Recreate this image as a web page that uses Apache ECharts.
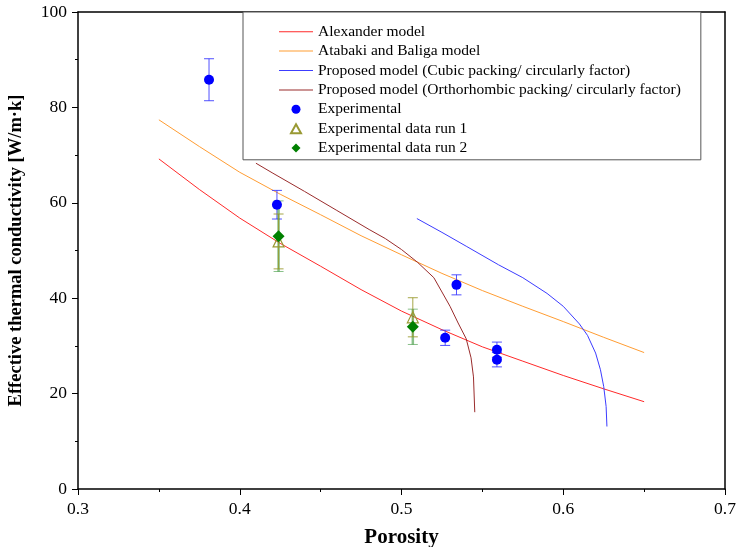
<!DOCTYPE html>
<html>
<head>
<meta charset="utf-8">
<script src="https://cdn.jsdelivr.net/npm/echarts@6/dist/echarts.min.js"></script>
<style>
  html, body { margin: 0; padding: 0; background: #fff; }
  #demo { width: 736px; height: 547px; }
</style>
</head>
<body>
<div id="demo"></div>
<script>
// 模型曲线 (porosity, k)
var alexanderX = [0.35, 0.375, 0.4, 0.425, 0.45, 0.475, 0.5, 0.525, 0.55, 0.575, 0.6, 0.625, 0.65];
var alexanderY = [69.2, 62.8, 56.8, 51.5, 46.7, 41.8, 37.3, 33.4, 29.8, 26.8, 23.8, 21.0, 18.3];
var atabakiX = [0.35, 0.375, 0.4, 0.425, 0.45, 0.475, 0.5, 0.525, 0.55, 0.575, 0.6, 0.625, 0.65];
var atabakiY = [77.4, 71.8, 66.4, 61.8, 57.5, 53.1, 49.1, 45.2, 41.6, 38.3, 35.1, 31.8, 28.6];
var cubicX = [0.5095, 0.525, 0.54, 0.56, 0.575, 0.59, 0.6, 0.61, 0.615, 0.62, 0.623, 0.625, 0.6265, 0.627];
var cubicY = [56.7, 53.8, 50.9, 47.0, 44.3, 41.0, 38.3, 34.6, 32.2, 28.5, 25.0, 21.5, 17.3, 13.1];
var orthoX = [0.41, 0.42, 0.44, 0.46, 0.48, 0.49, 0.5, 0.51, 0.52, 0.525, 0.53, 0.535, 0.54, 0.543, 0.5445, 0.5453];
var orthoY = [68.3, 66.3, 62.4, 58.4, 54.4, 52.5, 50.2, 47.5, 44.3, 41.3, 38.3, 34.8, 31.5, 27.5, 23.5, 16.1];

// 实验数据 + 误差
var expX = [0.381, 0.423, 0.534, 0.527, 0.559, 0.559];
var expY = [85.8, 59.6, 42.8, 31.7, 29.2, 27.1];
var expErr = [4.4, 3.0, 2.1, 1.6, 1.6, 1.5];
var run1X = [0.424, 0.507];
var run1Y = [51.9, 36.0];
var run1Err = [5.75, 4.1];
var run2X = [0.424, 0.507];
var run2Y = [53.0, 34.0];
var run2Err = [7.4, 3.7];

var xTicks = [0.3, 0.4, 0.5, 0.6, 0.7];
var yTicks = [0, 20, 40, 60, 80, 100];

var names = [
    'Alexander model',
    'Atabaki and Baliga model',
    'Proposed model (Cubic packing/ circularly factor)',
    'Proposed model (Orthorhombic packing/ circularly factor)',
    'Experimental',
    'Experimental data run 1',
    'Experimental data run 2'
];

function pairs(xs, ys, es) {
    var out = [];
    for (var i = 0; i < xs.length; i++) {
        if (es) out.push([xs[i], ys[i], es[i]]);
        else out.push([xs[i], ys[i]]);
    }
    return out;
}

// 误差棒
function errorBar(color, width) {
    return function (params, api) {
        var x = api.value(0), y = api.value(1), e = api.value(2);
        var top = api.coord([x, y + e]);
        var bot = api.coord([x, y - e]);
        var w = 5;
        var st = { stroke: color, lineWidth: width };
        var cap = { stroke: color, lineWidth: 1 };
        return {
            type: 'group',
            children: [
                { type: 'line', shape: { x1: top[0], y1: top[1], x2: bot[0], y2: bot[1] }, style: st },
                { type: 'line', shape: { x1: top[0] - w, y1: top[1], x2: top[0] + w, y2: top[1] }, style: cap },
                { type: 'line', shape: { x1: bot[0] - w, y1: bot[1], x2: bot[0] + w, y2: bot[1] }, style: cap }
            ]
        };
    };
}

var font = 'Liberation Serif';
var chartDom = document.getElementById('demo');
var myChart = echarts.init(chartDom, null, { renderer: 'canvas' });

function lineSeries(name, xs, ys, color) {
    return {
        name: name,
        type: 'line',
        data: pairs(xs, ys),
        symbol: 'none',
        smooth: false,
        lineStyle: { color: color, width: 1 },
        itemStyle: { color: color },
        z: 2
    };
}

// 图例图标: 线段 / 三角 / 菱形
var lineIcon = 'path://M0,0 L34,0 L34,1 L0,1 Z';
var triIcon = 'path://M5,0 L10,9 L0,9 Z';
var diaIcon = 'path://M5,0 L10,5 L5,10 L0,5 Z';
var legendData = [
    { name: names[0], icon: lineIcon },
    { name: names[1], icon: lineIcon },
    { name: names[2], icon: lineIcon },
    { name: names[3], icon: lineIcon },
    { name: names[4], icon: 'circle' },
    { name: names[5], icon: triIcon },
    { name: names[6], icon: diaIcon }
];

var option = {
    animation: false,
    backgroundColor: '#fff',
    textStyle: { fontFamily: font },
    grid: { left: 78, right: 11, top: 12, bottom: 58, containLabel: false, outerBoundsMode: 'none' },
    legend: {
        data: legendData,
        orient: 'vertical',
        left: 243,
        top: 12,
        padding: [10, 20, 2, 36],
        itemWidth: 34,
        itemHeight: 9,
        itemGap: 0,
        backgroundColor: '#fff',
        borderColor: '#555',
        borderWidth: 1,
        borderRadius: 0,
        textStyle: { fontFamily: font, fontSize: 15.5, color: '#000', lineHeight: 19.4 },
        z: 10
    },
    xAxis: [{
        type: 'value',
        min: 0.3, max: 0.7, interval: 0.1,
        name: 'Porosity',
        nameLocation: 'middle',
        nameGap: 38,
        nameTextStyle: { fontFamily: font, fontSize: 21, fontWeight: 'bold', color: '#000' },
        axisLine: { show: true, onZero: false, lineStyle: { color: '#000', width: 1.5 } },
        axisTick: { show: true, inside: false, length: 6, lineStyle: { color: '#000', width: 1 } },
        minorTick: { show: true, splitNumber: 2, length: 3, lineStyle: { color: '#000', width: 1 } },
        axisLabel: { fontFamily: font, fontSize: 17.5, color: '#000', margin: 11,
            formatter: function (v) { return xTicks.indexOf(+v.toFixed(1)) >= 0 ? v.toFixed(1) : ''; } },
        splitLine: { show: false }
    }, {
        type: 'value', position: 'top',
        min: 0.3, max: 0.7,
        axisLine: { show: true, onZero: false, lineStyle: { color: '#000', width: 1.5 } },
        axisTick: { show: false }, axisLabel: { show: false }, splitLine: { show: false }
    }],
    yAxis: [{
        type: 'value',
        min: 0, max: 100, interval: 20,
        name: 'Effective thermal conductivity [W/m\u00b7k]',
        nameLocation: 'middle',
        nameGap: 52,
        nameTextStyle: { fontFamily: font, fontSize: 18.5, fontWeight: 'bold', color: '#000' },
        axisLine: { show: true, onZero: false, lineStyle: { color: '#000', width: 1.5 } },
        axisTick: { show: true, inside: false, length: 6, lineStyle: { color: '#000', width: 1 } },
        minorTick: { show: true, splitNumber: 2, length: 3, lineStyle: { color: '#000', width: 1 } },
        axisLabel: { fontFamily: font, fontSize: 17.5, color: '#000', margin: 11,
            formatter: function (v) { return yTicks.indexOf(v) >= 0 ? String(v) : ''; } },
        splitLine: { show: false }
    }, {
        type: 'value', position: 'right',
        min: 0, max: 100,
        axisLine: { show: true, onZero: false, lineStyle: { color: '#000', width: 1.5 } },
        axisTick: { show: false }, axisLabel: { show: false }, splitLine: { show: false }
    }],
    series: [
        lineSeries(names[0], alexanderX, alexanderY, '#ff2a2a'),
        lineSeries(names[1], atabakiX, atabakiY, '#ff9d33'),
        lineSeries(names[2], cubicX, cubicY, '#3c3cff'),
        lineSeries(names[3], orthoX, orthoY, '#9a2c2c'),
        {
            type: 'custom', name: 'err0',
            renderItem: errorBar('rgba(50,50,255,0.85)', 1),
            data: pairs(expX, expY, expErr),
            encode: { x: 0, y: 1 }, z: 3
        },
        {
            type: 'custom', name: 'err2',
            renderItem: errorBar('rgba(40,140,40,0.55)', 2.5),
            data: pairs(run2X, run2Y, run2Err),
            encode: { x: 0, y: 1 }, z: 3
        },
        {
            type: 'custom', name: 'err1',
            renderItem: errorBar('rgba(150,150,40,0.85)', 1),
            data: pairs(run1X, run1Y, run1Err),
            encode: { x: 0, y: 1 }, z: 3
        },
        {
            name: names[4], type: 'scatter',
            data: pairs(expX, expY),
            symbol: 'circle', symbolSize: 10,
            itemStyle: { color: '#0000ff', opacity: 1 },
            z: 4
        },
        {
            name: names[5], type: 'scatter',
            data: pairs(run1X, run1Y),
            symbol: 'triangle', symbolSize: 11,
            itemStyle: { color: 'rgba(255,255,255,0)', borderColor: '#999933', borderWidth: 1.2, opacity: 1 },
            z: 4
        },
        {
            name: names[6], type: 'scatter',
            data: pairs(run2X, run2Y),
            symbol: 'diamond', symbolSize: 12,
            itemStyle: { color: '#008000', opacity: 1 },
            z: 5
        }
    ]
};
option && myChart.setOption(option);
</script>
</body>
</html>
